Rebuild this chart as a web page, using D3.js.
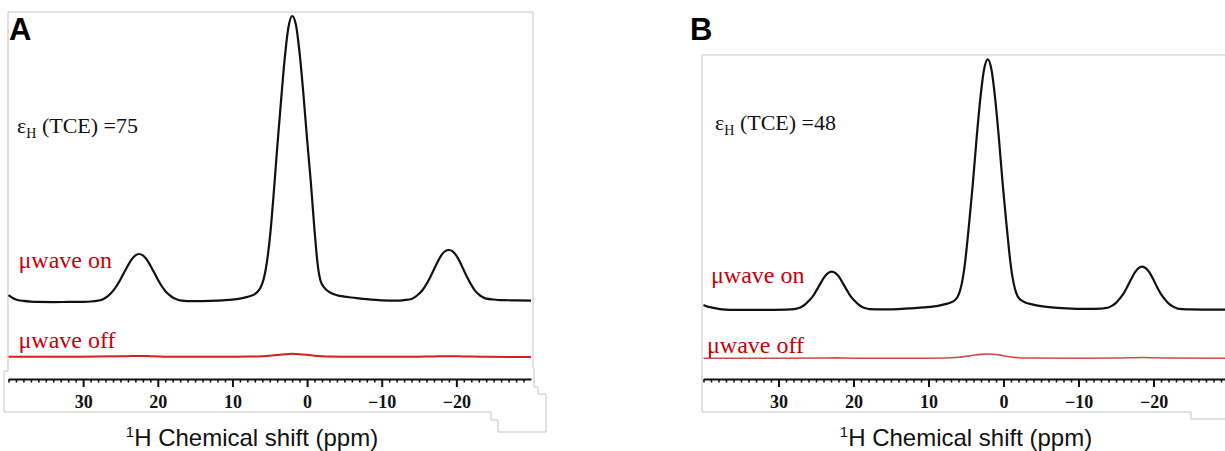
<!DOCTYPE html>
<html>
<head>
<meta charset="utf-8">
<script src="https://cdn.jsdelivr.net/npm/d3@7"></script>
<style>
  html, body { margin: 0; padding: 0; background: #fff; }
  svg { display: block; }
</style>
</head>
<body>
<svg id="chart" width="1225" height="451"></svg>
<script>
// 1H MAS DNP spectra of TCE, microwave on / off.
// Each point: [chemical shift (ppm), intensity (a.u., centre band of "on" = 100)]
const ppmTicks = [30, 20, 10, 0, -10, -20];

const spectrumOnA = [
  [40, 2.4], [39.5, 1.5], [39, 0.9], [38, 0.4], [37, 0.15], [36, 0.05], [34, 0], [32, 0.05],
  [30, 0.1], [29, 0.2], [28, 0.5], [27.5, 0.8], [27, 1.5], [26.5, 2.5], [26, 3.9], [25.5, 5.7],
  [25, 7.9], [24.5, 10.4], [24, 12.8], [23.5, 14.9], [23, 16.3], [22.5, 16.8], [22, 16.3],
  [21.5, 14.9], [21, 12.8], [20.5, 10.4], [20, 7.9], [19.5, 5.7], [19, 3.9], [18.5, 2.6],
  [18, 1.6], [17.5, 1.0], [17, 0.6], [16, 0.35], [14, 0.35], [12, 0.5], [10.5, 0.8], [9, 1.2],
  [8, 1.8], [7.5, 2.2], [7, 2.8], [6.5, 4.0], [6.25, 5.0], [6, 6.5], [5.75, 8.8], [5.5, 12],
  [5.25, 16.5], [5, 22], [4.75, 29], [4.5, 37], [4.25, 45.5], [4, 54], [3.5, 70], [3, 85],
  [2.5, 96], [2, 100], [1.5, 97], [1, 87], [0.5, 73], [0, 57], [-0.25, 49.5], [-0.5, 42],
  [-0.75, 33.5], [-1, 25], [-1.25, 17.5], [-1.5, 11.5], [-1.75, 8], [-2, 6.2], [-2.25, 5.2],
  [-2.5, 4.5], [-3, 3.5], [-4, 2.4], [-5, 1.9], [-6, 1.6], [-8, 1.0],
  [-10, 0.6], [-12, 0.5], [-13, 0.7], [-14, 1.1], [-14.5, 1.8], [-15, 2.9], [-15.5, 4.3],
  [-16, 6.3], [-16.5, 8.7], [-17, 11.4], [-17.5, 14.1], [-18, 16.4], [-18.5, 17.8], [-19, 18.2],
  [-19.5, 17.7], [-20, 16.2], [-20.5, 13.9], [-21, 11.1], [-21.5, 8.4], [-22, 6.0], [-22.5, 4.0],
  [-23, 2.7], [-23.5, 1.8], [-24, 1.2], [-25, 0.9], [-26, 0.7], [-28, 0.6], [-30, 0.5]
];

const spectrumOffA = [
  [40, 0.1], [34, 0.1], [28, 0.15], [24, 0.3], [22.5, 0.35], [21, 0.3], [18, 0.1], [12, 0.1],
  [8, 0.15], [6, 0.3], [5, 0.45], [4, 0.7], [3, 0.95], [2, 1.1], [1, 1.0], [0, 0.75],
  [-1, 0.45], [-2, 0.25], [-3, 0.15], [-6, 0.05], [-14, 0.05], [-17, 0.2], [-19, 0.3],
  [-21, 0.2], [-24, 0.05], [-30, 0]
];

const spectrumOnB = [
  [40, 2.0], [39.5, 1.4], [39, 1.0], [38, 0.4], [37, 0.1], [36, 0], [32, 0], [29, 0.1],
  [27.9, 0.3], [27.4, 0.7], [26.9, 1.3], [26.4, 2.3], [25.9, 3.8], [25.4, 5.5], [24.9, 8.0],
  [24.4, 10.6], [23.9, 13.1], [23.4, 14.7], [22.9, 15.3], [22.4, 14.7], [21.9, 13.1],
  [21.4, 10.6], [20.9, 8.0], [20.4, 5.5], [19.9, 3.8], [19.4, 2.3], [18.9, 1.3], [18.4, 0.7],
  [17.9, 0.35], [16, 0.2], [14, 0.3], [12.6, 0.6], [10.6, 1.0], [8.6, 1.7], [7.6, 2.4],
  [7.1, 2.9], [6.6, 3.6], [6.35, 4.3], [6.1, 5.4], [5.85, 7.2], [5.6, 10], [5.35, 14],
  [5.1, 19.5], [4.85, 26.5], [4.6, 34], [4.35, 42], [4.1, 50], [3.6, 68], [3.1, 84],
  [2.6, 95.8], [2.1, 100], [1.6, 95.8], [1.1, 84], [0.6, 68], [0.1, 50], [-0.15, 42],
  [-0.4, 34], [-0.65, 26.5], [-0.9, 19.5], [-1.15, 14], [-1.4, 10], [-1.65, 7.2], [-1.9, 5.4],
  [-2.15, 4.4], [-2.4, 3.8], [-2.9, 3.0], [-3.4, 2.5], [-4.4, 1.8], [-6.4, 1.0],
  [-8.4, 0.6], [-11, 0.4], [-13, 0.5], [-13.5, 0.7], [-14, 1.0], [-14.5, 1.7], [-15, 2.8],
  [-15.5, 4.5], [-16, 6.5], [-16.5, 9.2], [-17, 12.1], [-17.5, 14.9], [-18, 16.7],
  [-18.5, 17.3], [-19, 16.6], [-19.5, 14.8], [-20, 12.0], [-20.5, 9.0], [-21, 6.3],
  [-21.5, 4.3], [-22, 2.6], [-22.5, 1.5], [-23, 0.8], [-23.5, 0.4], [-25, 0.2], [-28, 0.1],
  [-30, 0.1]
];

const spectrumOffB = [
  [40, 0.05], [30, 0], [24, 0.1], [22.5, 0.15], [20, 0.05], [10, 0.05], [8, 0.1], [6, 0.4],
  [5, 0.8], [4, 1.2], [3, 1.55], [2, 1.7], [1, 1.5], [0, 1.05], [-1, 0.55], [-2, 0.25],
  [-3, 0.1], [-10, 0], [-15, 0.1], [-18.5, 0.3], [-22, 0.1], [-30, 0]
];

const panelLetters = ["A", "B"];
const enhancementLabels = ["75", "48"];
const traceLabels = ["\u03bcwave on", "\u03bcwave off"];
const axisTitle = "H Chemical shift (ppm)";

const SERIF = "'Liberation Serif', 'Times New Roman', serif";
const SANS = "'Liberation Sans', Arial, sans-serif";
const RED_TEXT = "#c8000a";

const svg = d3.select("#chart");

// panel layout
const panels = [
  {
    letter: panelLetters[0], eps: enhancementLabels[0],
    on: spectrumOnA, off: spectrumOffA,
    xRange: [8.5, 531], yRange: [357, 16], onOffset: 19.2,
    axisY: 379, offColor: "#d81e1e", offWidth: 2,
    letterPos: [9, 39.5], epsPos: [17, 132.5],
    onLabel: [18.5, 268], offLabel: [18.5, 348],
    titleX: 252,
    frame: "M8,12 H533 V368 H534 V387 H538 V394 H546 V432 H498 V420 H491 V412 H4 V371 H8 Z"
  },
  {
    letter: panelLetters[1], eps: enhancementLabels[1],
    on: spectrumOnB, off: spectrumOffB,
    xRange: [703.5, 1228.5], yRange: [358.3, 59.3], onOffset: 19.3,
    axisY: 379, offColor: "#d24848", offWidth: 1.6,
    letterPos: [690, 39.5], epsPos: [715, 130],
    onLabel: [711, 283], offLabel: [707, 353],
    titleX: 966,
    frame: "M1226,55 H702 V412 H1191 V419 H1226"
  }
];

panels.forEach(p => {
  const g = svg.append("g");
  const x = d3.scaleLinear().domain([40, -30]).range(p.xRange);
  const y = d3.scaleLinear().domain([0, 100 + p.onOffset]).range(p.yRange);

  // light grey frame
  g.append("path").attr("d", p.frame)
    .attr("fill", "none").attr("stroke", "#c6c6c6").attr("stroke-width", 1);

  // spectra
  const lineOff = d3.line().x(d => x(d[0])).y(d => y(d[1])).curve(d3.curveMonotoneX);
  const lineOn = d3.line().x(d => x(d[0])).y(d => y(d[1] + p.onOffset)).curve(d3.curveMonotoneX);

  g.append("path").datum(p.off).attr("d", lineOff)
    .attr("fill", "none").attr("stroke", p.offColor).attr("stroke-width", p.offWidth);
  g.append("path").datum(p.on).attr("d", lineOn)
    .attr("fill", "none").attr("stroke", "#111").attr("stroke-width", 2.2)
    .attr("stroke-linejoin", "round");

  // x axis: minor ticks every 1 ppm, labelled major ticks every 10 ppm
  const minor = d3.range(40, -30, -1).filter(v => !ppmTicks.includes(v));
  const axisMinor = g.append("g").attr("transform", `translate(0,${p.axisY})`)
    .call(d3.axisBottom(x).tickValues(minor).tickFormat("").tickSize(3.5).tickSizeOuter(0));
  axisMinor.select(".domain").attr("stroke", "#111").attr("stroke-width", 2.2);
  axisMinor.selectAll(".tick line").attr("stroke", "#111").attr("stroke-width", 1.6);

  const axisMajor = g.append("g").attr("transform", `translate(0,${p.axisY})`)
    .call(d3.axisBottom(x).tickValues(ppmTicks).tickSize(8).tickSizeOuter(0));
  axisMajor.select(".domain").remove();
  axisMajor.selectAll(".tick line").attr("stroke", "#111").attr("stroke-width", 2);
  axisMajor.selectAll(".tick text")
    .attr("dy", null).attr("y", 28.5)
    .attr("fill", "#111")
    .style("font-family", SERIF).style("font-weight", "bold").style("font-size", "18px");

  // axis title with superscript mass number
  const t = g.append("text").attr("x", p.titleX).attr("y", 446)
    .attr("text-anchor", "middle")
    .style("font-family", SANS).style("font-size", "24px").attr("fill", "#111");
  t.append("tspan").text("1").style("font-size", "15px").attr("dy", -9);
  t.append("tspan").text(axisTitle).attr("dy", 9);

  // panel letter
  g.append("text").attr("x", p.letterPos[0]).attr("y", p.letterPos[1])
    .text(p.letter)
    .style("font-family", SANS).style("font-weight", "bold").style("font-size", "31px")
    .attr("fill", "#000");

  // enhancement factor
  const e = g.append("text").attr("x", p.epsPos[0]).attr("y", p.epsPos[1])
    .style("font-family", SERIF).style("font-size", "22px").attr("fill", "#111");
  e.append("tspan").text("\u03b5");
  e.append("tspan").text("H").style("font-size", "14px").attr("dy", 5);
  e.append("tspan").text(" (TCE) =" + p.eps).attr("dy", -5);

  // trace labels
  g.append("text").attr("x", p.onLabel[0]).attr("y", p.onLabel[1]).text(traceLabels[0])
    .style("font-family", SERIF).style("font-size", "24px").attr("fill", RED_TEXT);
  g.append("text").attr("x", p.offLabel[0]).attr("y", p.offLabel[1]).text(traceLabels[1])
    .style("font-family", SERIF).style("font-size", "24px").attr("fill", RED_TEXT);
});
</script>
</body>
</html>
